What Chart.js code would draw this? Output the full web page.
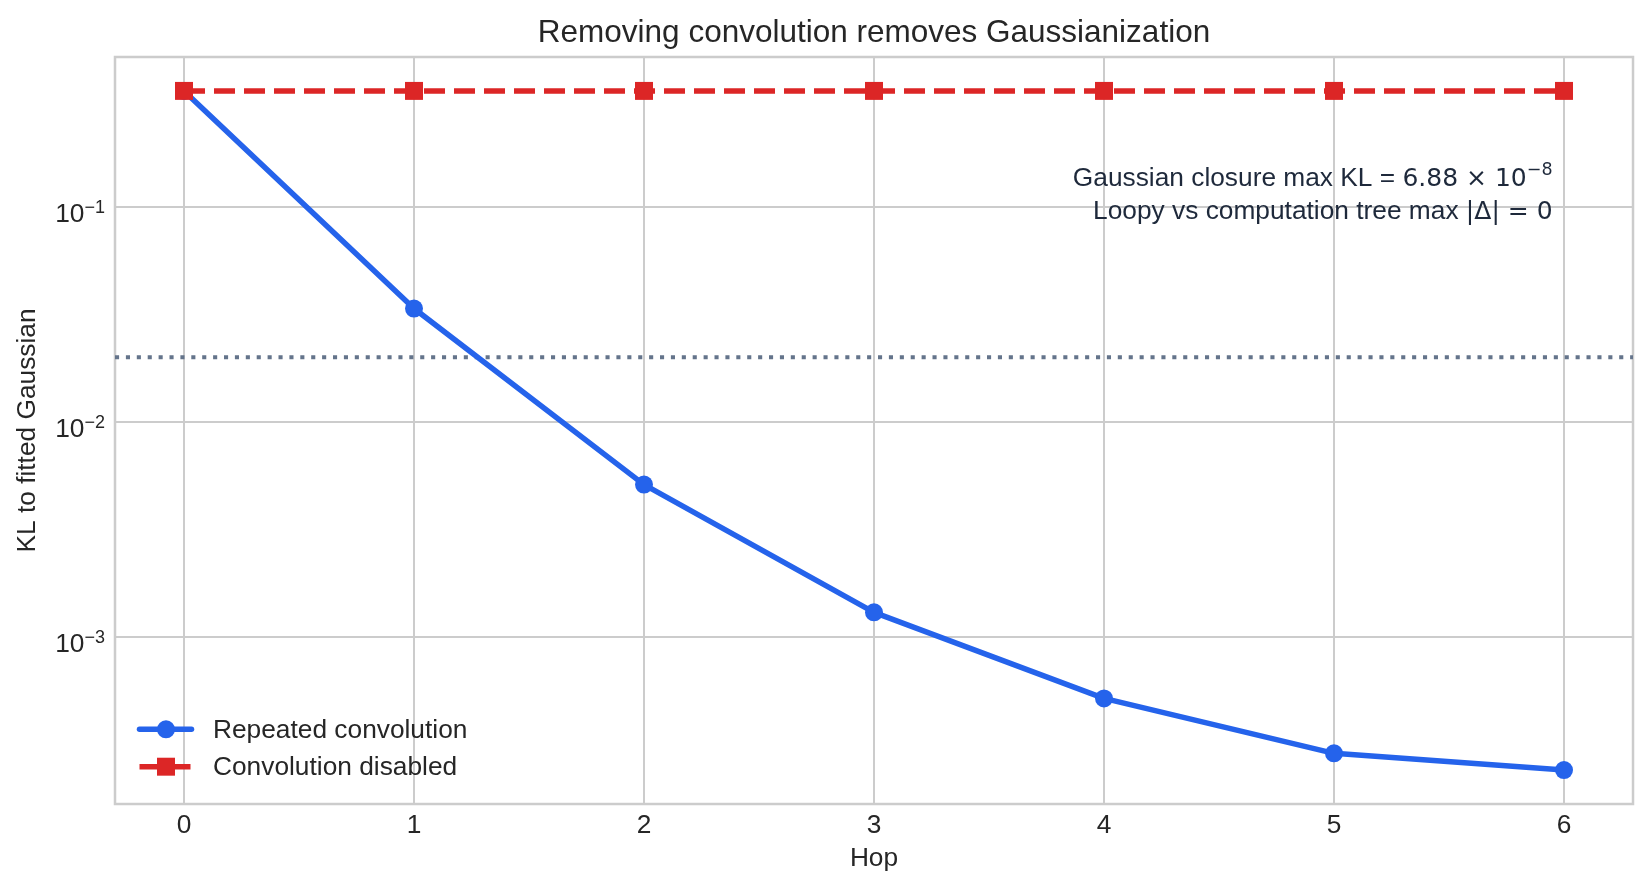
<!DOCTYPE html>
<html>
<head>
<meta charset="utf-8">
<script src="https://cdn.jsdelivr.net/npm/chart.js@4.4.1/dist/chart.umd.min.js"></script>
<style>
  html, body { margin: 0; padding: 0; background: #ffffff; }
  #wrap { width: 1652px; height: 891px; }
</style>
</head>
<body>
<div id="wrap"><canvas id="klChart" width="1652" height="891"></canvas></div>
<script>
// values
const hops = [0, 1, 2, 3, 4, 5, 6];
const repeatedConvolution = [0.347, 0.0337, 0.00511, 0.00130, 0.000517, 0.000287, 0.000240];
const convolutionDisabled = [0.347, 0.347, 0.347, 0.347, 0.347, 0.347, 0.347];
const referenceLevel = 0.02;
const xLimits = [-0.3, 6.3];
const yLimits = [1.668e-4, 0.499];
const yTickValues = [0.1, 0.01, 0.001];
const yTickExponents = ['\u22121', '\u22122', '\u22123'];
const seriesLabels = ['Repeated convolution', 'Convolution disabled'];
const chartTitle = 'Removing convolution removes Gaussianization';

const SANS = '"Liberation Sans", Arial, sans-serif';
const MATH = '"DejaVu Sans", sans-serif';
const FS = 26.3;
const TEXT = '#262626';
const BLUE = '#2563eb';
const RED = '#dc2626';
const GRID = '#cccccc';

Chart.defaults.font.family = SANS;
Chart.defaults.color = TEXT;

const noteLines = [
  [
    { text: 'Gaussian closure max KL = ', font: FS + 'px ' + SANS },
    { text: '6.88 \u00d7 10', font: '25px ' + MATH },
    { text: '\u22128', font: '17.5px ' + MATH, rise: 11 }
  ],
  [
    { text: 'Loopy vs computation tree max ', font: FS + 'px ' + SANS },
    { text: '|\u0394| = 0', font: '25px ' + MATH }
  ]
];

function drawRuns(ctx, runs, rightX, baseline) {
  let total = 0;
  runs.forEach(r => { ctx.font = r.font; total += ctx.measureText(r.text).width; });
  let x = rightX - total;
  runs.forEach(r => {
    ctx.font = r.font;
    ctx.fillText(r.text, x, baseline - (r.rise || 0));
    x += ctx.measureText(r.text).width;
  });
}

const extras = {
  id: 'extras',
  beforeDatasetsDraw: (chart) => {
    const { ctx, chartArea: a } = chart;
    ctx.save();
    ctx.strokeStyle = GRID;
    ctx.lineWidth = 2.5;
    ctx.strokeRect(a.left, a.top, a.right - a.left, a.bottom - a.top);
    ctx.restore();
  },
  afterDraw: (chart) => {
    const { ctx, chartArea: a, scales: { y } } = chart;
    ctx.save();
    ctx.fillStyle = TEXT;

    // title centred over the axes
    ctx.font = '31.5px ' + SANS;
    ctx.textAlign = 'center';
    ctx.textBaseline = 'alphabetic';
    ctx.fillText(chartTitle, (a.left + a.right) / 2, a.top - 15);

    ctx.textAlign = 'left';

    // y tick labels as 10^n
    yTickValues.forEach((v, i) => {
      const py = y.getPixelForValue(v);
      drawRuns(ctx, [
        { text: '10', font: FS + 'px ' + SANS },
        { text: yTickExponents[i], font: '18px ' + SANS, rise: 9 }
      ], a.left - 10, py + 15);
    });

    // legend, lower left inside the axes
    const rows = [
      { color: BLUE, style: 'circle', radius: 9, dash: [], cap: 'round' },
      { color: RED, style: 'rect', radius: 12.7, dash: [21, 9], cap: 'butt' }
    ];
    rows.forEach((r, i) => {
      const ry = a.bottom - 74.7 + i * 37.4;
      ctx.strokeStyle = r.color;
      ctx.fillStyle = r.color;
      ctx.lineWidth = 5.5;
      ctx.lineCap = r.cap;
      ctx.setLineDash(r.dash);
      ctx.beginPath();
      ctx.moveTo(a.left + 24.5, ry);
      ctx.lineTo(a.left + 76.5, ry);
      ctx.stroke();
      ctx.setLineDash([]);
      Chart.helpers.drawPoint(ctx, { pointStyle: r.style, radius: r.radius, rotation: 0, borderWidth: 0 }, a.left + 51, ry);
      ctx.fillStyle = TEXT;
      ctx.font = FS + 'px ' + SANS;
      ctx.textBaseline = 'middle';
      ctx.fillText(seriesLabels[i], a.left + 98, ry + 1);
      ctx.textBaseline = 'alphabetic';
    });

    // note, upper right
    ctx.fillStyle = '#1e293b';
    const rx = a.left + (a.right - a.left) * 0.947;
    drawRuns(ctx, noteLines[0], rx, a.top + 129);
    drawRuns(ctx, noteLines[1], rx, a.top + 162);
    ctx.restore();
  }
};

const ctx = document.getElementById('klChart');

const klChart = new Chart(ctx, {
  type: 'line',
  data: {
    datasets: [{
      label: seriesLabels[1],
      data: hops.map((h, i) => ({ x: h, y: convolutionDisabled[i] })),
      borderColor: RED,
      backgroundColor: RED,
      borderWidth: 5.5,
      borderDash: [21, 9],
      borderCapStyle: 'butt',
      pointStyle: 'rect',
      pointRadius: 12.7,
      pointBorderWidth: 0,
      pointBackgroundColor: RED,
      order: 0
    },
    {
      label: seriesLabels[0],
      data: hops.map((h, i) => ({ x: h, y: repeatedConvolution[i] })),
      borderColor: BLUE,
      backgroundColor: BLUE,
      borderWidth: 5.5,
      borderCapStyle: 'round',
      borderJoinStyle: 'round',
      pointStyle: 'circle',
      pointRadius: 9,
      pointBorderWidth: 0,
      pointBackgroundColor: BLUE,
      order: 1
    },
    {
      label: 'reference',
      data: xLimits.map(x => ({ x: x, y: referenceLevel })),
      borderColor: '#64748b',
      borderWidth: 4.1,
      borderDash: [4.1, 6.8],
      borderCapStyle: 'butt',
      pointRadius: 0,
      order: 2
    }]
  },
  plugins: [extras],
  options: {
    responsive: false,
    animation: false,
    devicePixelRatio: 1,
    layout: {
      padding: { left: 0, right: 19, top: 57, bottom: 0 }
    },
    plugins: {
      legend: { display: false },
      tooltip: { enabled: false },
      title: { display: false }
    },
    scales: {
      x: {
        type: 'linear',
        min: xLimits[0],
        max: xLimits[1],
        afterBuildTicks: (scale) => { scale.ticks = hops.map(v => ({ value: v })); },
        afterFit: (scale) => { scale.height = 87; },
        ticks: {
          padding: 6,
          color: TEXT,
          font: { size: FS },
          maxRotation: 0,
          autoSkip: false
        },
        grid: { color: GRID, lineWidth: 2, drawTicks: false },
        border: { display: false },
        title: {
          display: true,
          text: 'Hop',
          color: TEXT,
          font: { size: FS, lineHeight: 1.2 },
          padding: { top: 0, bottom: 16 }
        }
      },
      y: {
        type: 'logarithmic',
        min: yLimits[0],
        max: yLimits[1],
        afterBuildTicks: (scale) => { scale.ticks = yTickValues.map(v => ({ value: v })); },
        afterFit: (scale) => { scale.width = 115; },
        ticks: { display: false },
        grid: { color: GRID, lineWidth: 2, drawTicks: false },
        border: { display: false },
        title: {
          display: true,
          text: 'KL to fitted Gaussian',
          color: TEXT,
          font: { size: FS, lineHeight: 1.2 },
          padding: { top: 12, bottom: 0 }
        }
      }
    }
  }
});
</script>
</body>
</html>
